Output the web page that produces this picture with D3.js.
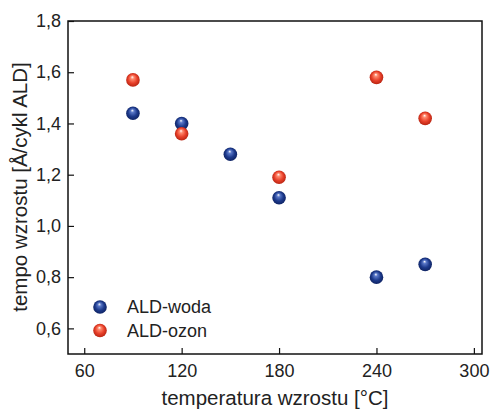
<!DOCTYPE html>
<html>
<head>
<meta charset="utf-8">
<script src="https://cdn.jsdelivr.net/npm/d3@7"></script>
<style>
  body { margin: 0; background: #fff; }
  text { font-family: "Liberation Sans", Arial, sans-serif; fill: #222; }
</style>
</head>
<body>
<div id="chart"></div>
<script>
// data
var wodaTemp = [90, 120, 150, 180, 240, 270];
var wodaRate = [1.44, 1.40, 1.28, 1.11, 0.80, 0.85];
var ozonTemp = [90, 120, 180, 240, 270];
var ozonRate = [1.57, 1.36, 1.19, 1.58, 1.42];
var xTicks = [60, 120, 180, 240, 300];
var yTicks = [0.6, 0.8, 1.0, 1.2, 1.4, 1.6, 1.8];
var seriesNames = ["ALD-woda", "ALD-ozon"];

var width = 490, height = 410;
var plotL = 68, plotR = 482, plotT = 21, plotB = 354;

var svg = d3.select("#chart").append("svg")
    .attr("width", width)
    .attr("height", height);

var x = d3.scaleLinear().domain([50, 305]).range([plotL, plotR]);
var y = d3.scaleLinear().domain([0.5, 1.8]).range([plotB, plotT]);

// sphere gradients
var defs = svg.append("defs");
function sphere(id, light, mid, dark) {
    var g = defs.append("radialGradient").attr("id", id)
        .attr("cx", "50%").attr("cy", "50%").attr("r", "55%")
        .attr("fx", "45%").attr("fy", "28%");
    g.append("stop").attr("offset", "0%").attr("stop-color", "#fff");
    g.append("stop").attr("offset", "22%").attr("stop-color", light);
    g.append("stop").attr("offset", "60%").attr("stop-color", mid);
    g.append("stop").attr("offset", "100%").attr("stop-color", dark);
}
sphere("blue", "#5a78c8", "#1d3a8c", "#0c1f5c");
sphere("red", "#ff8a6e", "#e8402a", "#b0200e");

// frame
svg.append("rect")
    .attr("x", plotL).attr("y", plotT)
    .attr("width", plotR - plotL).attr("height", plotB - plotT)
    .attr("fill", "none").attr("stroke", "#111").attr("stroke-width", 1.5);

// axes, ticks pointing inward
var xAxis = svg.append("g")
    .attr("transform", "translate(0," + plotB + ")")
    .call(d3.axisBottom(x).tickValues(xTicks).tickSizeInner(-6).tickSizeOuter(0).tickPadding(10));
var yAxis = svg.append("g")
    .attr("transform", "translate(" + plotL + ",0)")
    .call(d3.axisLeft(y).tickValues(yTicks).tickSizeInner(-6).tickSizeOuter(0).tickPadding(7)
        .tickFormat(function (d) { return d.toFixed(1).replace(".", ","); }));

[xAxis, yAxis].forEach(function (a) {
    a.select(".domain").remove();
    a.selectAll("line").attr("stroke", "#111").attr("stroke-width", 1.2);
    a.selectAll("text").style("font-size", "18px").attr("fill", "#222");
});

// points
function dots(tx, ty, fill) {
    svg.append("g").selectAll("circle")
        .data(tx)
        .enter().append("circle")
        .attr("cx", function (d) { return x(d); })
        .attr("cy", function (d, i) { return y(ty[i]); })
        .attr("r", 6.8)
        .attr("fill", "url(#" + fill + ")");
}
dots(wodaTemp, wodaRate, "blue");
dots(ozonTemp, ozonRate, "red");

// legend
var legend = svg.append("g").attr("transform", "translate(100,307)");
seriesNames.forEach(function (name, i) {
    legend.append("circle")
        .attr("cx", 0).attr("cy", i * 23.5)
        .attr("r", 6.8)
        .attr("fill", i === 0 ? "url(#blue)" : "url(#red)");
    legend.append("text")
        .attr("x", 27).attr("y", i * 23.5)
        .attr("dy", "0.35em")
        .style("font-size", "18px")
        .text(name);
});

// axis titles
svg.append("text")
    .attr("x", 275)
    .attr("y", 405)
    .attr("text-anchor", "middle")
    .style("font-size", "20.5px")
    .text("temperatura wzrostu [°C]");

svg.append("text")
    .attr("transform", "translate(27,187) rotate(-90)")
    .attr("text-anchor", "middle")
    .style("font-size", "20.5px")
    .text("tempo wzrostu [Å/cykl ALD]");
</script>
</body>
</html>
